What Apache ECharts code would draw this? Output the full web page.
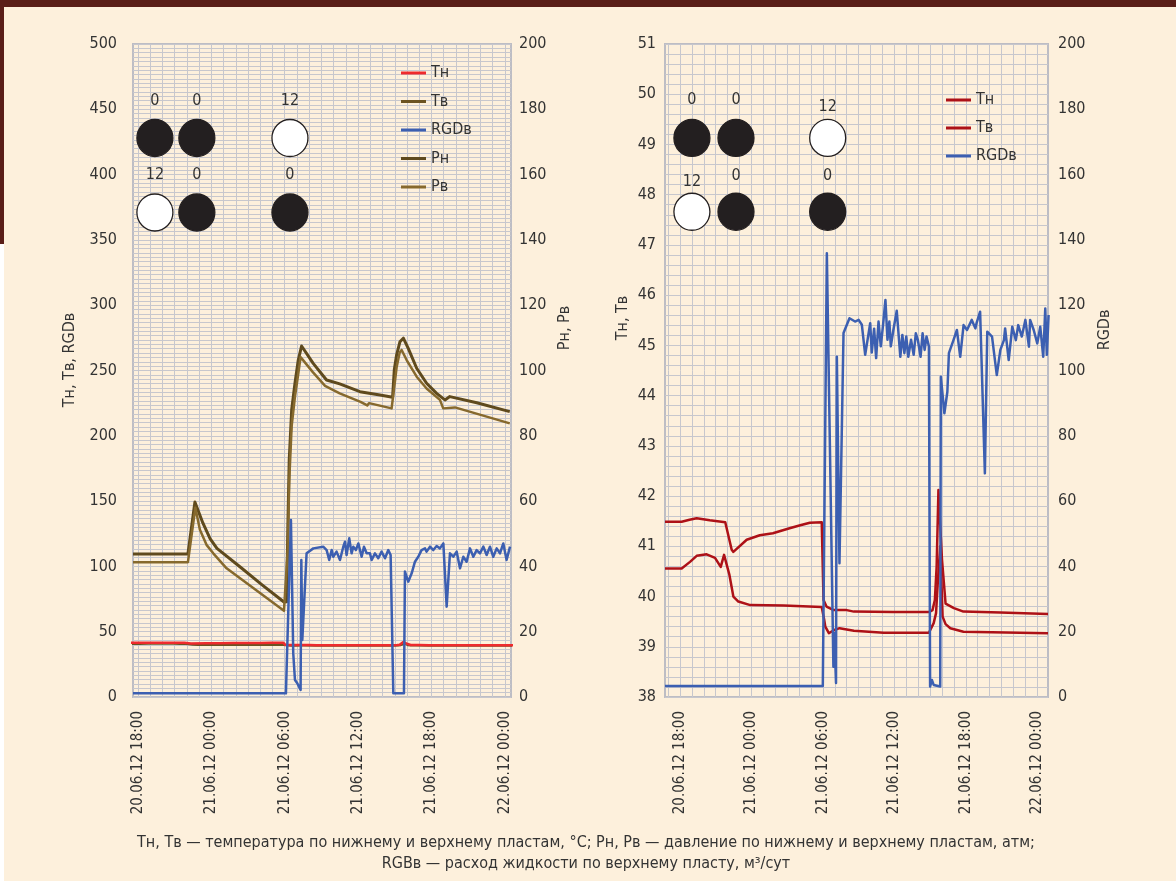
<!DOCTYPE html>
<html><head><meta charset="utf-8">
<script src="https://cdn.jsdelivr.net/npm/echarts@6/dist/echarts.min.js"></script>
<style>html,body{margin:0;padding:0;background:#fdf0dc;}#c{width:1176px;height:881px;}</style>
</head><body><div id="c"></div>
<script>
// ---------- DATA ----------
// x values: hours since 20.06.12 18:00
const timeLabels = ['20.06.12 18:00','21.06.12 00:00','21.06.12 06:00','21.06.12 12:00','21.06.12 18:00','22.06.12 00:00'];
const labelHours = [0, 6, 12, 18, 24, 30];

// Temperatures (°C)
const tempLower = [[-1.26,41.49],[0.14,41.49],[0.8,41.53],[1.4,41.56],[2.5,41.52],[3.8,41.48],[4.34,40.93],[4.48,40.89],[5.6,41.13],[6.7,41.22],[7.8,41.26],[9.2,41.36],[10.1,41.42],[10.9,41.47],[11.9,41.48],[12.05,39.93],[12.3,39.80],[12.9,39.73],[14.0,39.73],[14.6,39.70],[17.9,39.69],[20.9,39.69],[21.2,39.73],[21.4,39.93],[21.55,40.6],[21.7,42.12],[22.0,40.73],[22.3,39.86],[23.0,39.77],[23.8,39.70],[26.9,39.68],[30.9,39.65]];
const tempUpper = [[-1.26,40.56],[0.14,40.56],[0.84,40.69],[1.4,40.81],[2.24,40.84],[2.94,40.77],[3.42,40.59],[3.7,40.83],[4.15,40.43],[4.48,40.0],[4.9,39.9],[5.9,39.83],[8.7,39.82],[11.9,39.79],[12.1,39.55],[12.2,39.4],[12.5,39.27],[12.9,39.33],[13.4,39.37],[14.6,39.32],[17.1,39.28],[20.9,39.28],[21.3,39.47],[21.5,39.67],[21.65,40.3],[21.85,41.0],[22.05,39.6],[22.3,39.45],[22.7,39.37],[23.8,39.30],[30.9,39.27]];

// Pressures (atm), left chart right axis
const pressLower = [[-0.4,43.8],[4.09,43.8],[4.66,59.7],[5.31,53.3],[5.9,48.5],[6.46,45.5],[8.34,39.9],[10.1,34.5],[11.94,29.1],[12.16,29.2],[12.26,52.2],[12.37,72.6],[12.57,87.9],[12.84,96.1],[13.11,103.2],[13.38,107.5],[14.33,102.2],[15.42,97.1],[16.5,95.9],[18.15,93.5],[19.79,92.5],[20.82,91.8],[20.96,100.2],[21.15,104.8],[21.42,108.8],[21.7,109.9],[22.1,106.8],[22.79,100.7],[23.6,96.1],[24.42,93.0],[25.1,91.0],[25.5,92.0],[27.7,90.1],[30.4,87.4]];
const pressUpper = [[-0.4,41.3],[4.09,41.3],[4.7,58.0],[5.07,51.2],[5.61,46.6],[6.16,44.0],[7.25,39.4],[11.94,26.4],[12.1,26.3],[12.26,46],[12.37,66],[12.57,83],[12.84,92],[13.11,99],[13.3,104.1],[14.3,99.5],[15.3,95.3],[16.5,93.0],[18.2,90.4],[18.75,89.3],[18.9,90.0],[20.74,88.4],[20.85,88.3],[20.96,95],[21.15,101],[21.4,105.5],[21.56,106.3],[21.97,103.2],[22.79,98.1],[23.6,94.5],[24.69,91.0],[24.96,88.4],[25.92,88.7],[30.4,83.8]];

// Liquid flow of the upper layer (m3/day), left chart
const flowLeft = [[-0.4,2.8],[12.1,2.8],[12.51,135.5],[12.7,33.4],[12.84,13],[13.03,10.5],[13.3,5.4],[13.36,104.9],[13.44,43.6],[13.79,110],[14.34,113.8],[15.15,115.1],[15.43,112.5],[15.64,104.9],[15.84,112.5],[15.97,107.4],[16.24,111.3],[16.52,104.9],[16.79,115.1],[16.93,118.9],[17.06,108.7],[17.28,121.5],[17.47,110],[17.61,115.1],[17.82,112.5],[18.02,117.6],[18.15,118.9],[18.29,107.4],[18.48,115.1],[18.7,110],[18.97,110],[19.11,104.9],[19.38,110],[19.65,106.2],[19.92,111.3],[20.2,106.2],[20.47,112.5],[20.66,108.7],[20.82,107.4],[20.88,2.8],[21.75,2.8],[21.83,96],[22.1,88.3],[22.38,94.7],[22.65,103.6],[22.92,107.4],[23.19,112.5],[23.47,113.8],[23.6,111.3],[23.88,115.1],[24.15,112.5],[24.42,115.6],[24.69,113.8],[24.97,117.6],[25.24,69.2],[25.51,110],[25.78,107.4],[26.06,111.3],[26.33,98.5],[26.6,107.4],[26.87,103.6],[27.15,113.8],[27.42,107.4],[27.69,112.5],[27.96,110],[28.24,115.1],[28.51,108.7],[28.78,115.1],[29.05,107.4],[29.33,113.8],[29.6,110],[29.87,117.6],[30.14,104.9],[30.42,115.1]];

// Liquid flow of the upper layer (m3/day), right chart
const flowRight = [[-1.26,3.4],[11.99,3.4],[12.33,135.9],[12.88,9.3],[12.95,19.6],[13.1,4.3],[13.17,104.2],[13.39,41],[13.73,111.5],[14.23,116],[14.7,115],[15.0,115.5],[15.27,114],[15.55,104.8],[15.97,114.5],[16.1,105.5],[16.3,112.8],[16.47,103.8],[16.67,115],[16.86,107.4],[17.05,114],[17.25,121.6],[17.42,109.4],[17.58,115],[17.7,107.4],[17.92,112.5],[18.2,118.3],[18.5,104.2],[18.67,110.9],[18.84,105.3],[19.0,110.4],[19.17,104.2],[19.4,109.4],[19.62,104.8],[19.8,111.4],[19.97,109.4],[20.2,104.2],[20.37,111.4],[20.54,106.3],[20.7,110.4],[20.9,107.4],[21.0,3.2],[21.15,5.2],[21.3,3.7],[21.85,3.2],[21.9,98.1],[22.2,86.9],[22.45,93.5],[22.58,105.3],[22.97,109.4],[23.25,112.4],[23.53,104.2],[23.81,113.9],[24.1,112.4],[24.5,115.5],[24.8,112.9],[24.9,114.5],[25.2,118],[25.6,68.5],[25.8,111.9],[26.2,110.4],[26.6,98.6],[26.9,106.3],[27.2,109.3],[27.3,112.9],[27.6,103.2],[27.9,113.4],[28.2,109.3],[28.4,113.9],[28.7,110.4],[29.0,115.5],[29.3,107.3],[29.4,115.5],[29.7,112.4],[30.0,108.3],[30.25,113.4],[30.5,104.2],[30.67,119],[30.8,104.8],[30.95,117]];

// Valve states (shown as circles with the value above)
const valveStatesTop = [0, 0, 12];
const valveStatesBottom = [12, 0, 0];

// ---------- STYLE / LAYOUT ----------
const FONT = '"DejaVu Sans Condensed","Liberation Sans Narrow",sans-serif';
const TXT = '#333';
const GRIDC = '#c7c7cd';
const valveHoursL = [1.39, 4.82, 12.43], valveYL = [428, 371];
const valveHoursR = [1.0, 4.7, 12.4], valveYR = [49.13, 47.66];
const valveDistR = [[11,11,4],[3,9,9]];

function hourGrid(from, to){ const a=[]; for(let h=from; h<=to; h++) a.push(h); return a; }

function xAxisFor(gi, min, max){
  return {
    gridIndex: gi, type: 'value', min: min, max: max,
    axisLine: {show: false},
    axisTick: {show: false, customValues: hourGrid(Math.ceil(min), Math.floor(max))},
    axisLabel: {
      customValues: labelHours, rotate: 90, margin: 14,
      fontFamily: FONT, fontSize: 15, color: TXT,
      formatter: v => timeLabels[labelHours.indexOf(Math.round(v))] || ''
    },
    splitLine: {show: true, lineStyle: {color: GRIDC, width: 1}}
  };
}
function yLab(margin){ return {margin: margin, fontFamily: FONT, fontSize: 16, color: TXT}; }

function valveSeries(name, xi, yi, hours, ys, dists){
  const data = [];
  [valveStatesTop, valveStatesBottom].forEach((row, r) => {
    row.forEach((s, i) => {
      data.push({
        value: [hours[i], ys[r], s],
        itemStyle: {color: s === 0 ? '#231f20' : '#ffffff', borderColor: '#231f20', borderWidth: 1.3, opacity: 1},
        label: {distance: dists ? dists[r][i] : 10}
      });
    });
  });
  return {
    name: name, type: 'scatter', xAxisIndex: xi, yAxisIndex: yi, symbol: 'circle', symbolSize: [36, 37],
    data: data, z: 10, silent: true, itemStyle: {opacity: 1},
    label: {show: true, position: 'top', formatter: p => String(p.value[2]), fontFamily: FONT, fontSize: 16, color: TXT}
  };
}
function line(name, xi, yi, data, color, width, z){
  return {name: name, type: 'line', xAxisIndex: xi, yAxisIndex: yi, data: data, showSymbol: false, symbol: 'none',
    lineStyle: {color: color, width: width, join: 'round'}, itemStyle: {color: color}, z: z || 2, animation: false};
}

const chart = echarts.init(document.getElementById('c'), null, {renderer: 'canvas'});
const legendText = {fontFamily: FONT, fontSize: 16, color: TXT, lineHeight: 18};
const nameMap = {'Тн':'Тн','Тв':'Тв','RGDв':'RGDв','Рн':'Рн','Рв':'Рв','Тн ':'Тн','Тв ':'Тв','RGDв ':'RGDв'};

const option = {
  backgroundColor: '#fdf0dc',
  animation: false,
  textStyle: {fontFamily: FONT},
  grid: [
    {left: 133, top: 44, width: 378, height: 653, show: true, borderColor: '#bdbdc4', borderWidth: 2, backgroundColor: 'transparent'},
    {left: 665, top: 44, width: 383, height: 653, show: true, borderColor: '#bdbdc4', borderWidth: 2, backgroundColor: 'transparent'}
  ],
  xAxis: [xAxisFor(0, -0.4, 30.5), xAxisFor(1, -1.26, 30.9)],
  yAxis: [
    {gridIndex: 0, type: 'value', min: 0, max: 500, interval: 50, axisLine: {show: false}, axisTick: {show: false},
     axisLabel: yLab(16), splitLine: {show: true, lineStyle: {color: GRIDC}},
     minorTick: {show: false, splitNumber: 15}, minorSplitLine: {show: true, lineStyle: {color: GRIDC}}},
    {gridIndex: 0, type: 'value', position: 'right', min: 0, max: 200, interval: 20, axisLine: {show: false}, axisTick: {show: false},
     axisLabel: yLab(8), splitLine: {show: false}},
    {gridIndex: 1, type: 'value', min: 38, max: 51, interval: 1, axisLine: {show: false}, axisTick: {show: false},
     axisLabel: yLab(9), splitLine: {show: true, lineStyle: {color: GRIDC}},
     minorTick: {show: false, splitNumber: 5}, minorSplitLine: {show: true, lineStyle: {color: GRIDC}}},
    {gridIndex: 1, type: 'value', position: 'right', min: 0, max: 200, interval: 20, axisLine: {show: false}, axisTick: {show: false},
     axisLabel: yLab(10), splitLine: {show: false}}
  ],
  legend: [
    {data: ['Тн','Тв','RGDв','Рн','Рв'], orient: 'vertical', left: 396, top: 59, itemWidth: 25, itemHeight: 3, itemGap: 10.5,
     icon: 'rect', textStyle: legendText, formatter: n => nameMap[n], selectedMode: false},
    {data: ['Тн ','Тв ','RGDв '], orient: 'vertical', left: 941, top: 86, itemWidth: 25, itemHeight: 3, itemGap: 10,
     icon: 'rect', textStyle: legendText, formatter: n => nameMap[n], selectedMode: false}
  ],
  series: [
    line('Тв', 0, 0, tempUpper, '#6b5322', 2, 2),
    line('Тн', 0, 0, tempLower, '#ee2a2e', 2.5, 3),
    line('RGDв', 0, 0, flowLeft, '#3c5fb1', 2.5, 4),
    line('Рн', 0, 1, pressLower, '#5f4a1d', 3, 3),
    line('Рв', 0, 1, pressUpper, '#86692d', 2.5, 3),
    valveSeries('valvesL', 0, 0, valveHoursL, valveYL, null),
    line('Тн ', 1, 2, tempLower, '#ad1117', 2.5, 3),
    line('Тв ', 1, 2, tempUpper, '#ad1117', 2.5, 3),
    line('RGDв ', 1, 3, flowRight, '#3c5fb1', 2.5, 4),
    valveSeries('valvesR', 1, 2, valveHoursR, valveYR, valveDistR)
  ],
  graphic: [
    {type: 'rect', left: 0, top: 0, shape: {width: 1176, height: 7}, style: {fill: '#5a1e18'}, z: 100},
    {type: 'rect', left: 0, top: 0, shape: {width: 4, height: 244}, style: {fill: '#5a1e18'}, z: 100},
    {type: 'rect', left: 0, top: 244, shape: {width: 4, height: 637}, style: {fill: '#ffffff'}, z: 100},
    {type: 'text', x: 70, y: 360, rotation: Math.PI/2, style: {text: 'Тн, Тв, RGDв', font: '16px ' + FONT, fill: TXT, align: 'center', verticalAlign: 'middle'}},
    {type: 'text', x: 565, y: 328, rotation: Math.PI/2, style: {text: 'Рн, Рв', font: '16px ' + FONT, fill: TXT, align: 'center', verticalAlign: 'middle'}},
    {type: 'text', x: 623, y: 318, rotation: Math.PI/2, style: {text: 'Тн, Тв', font: '16px ' + FONT, fill: TXT, align: 'center', verticalAlign: 'middle'}},
    {type: 'text', x: 1105, y: 330, rotation: Math.PI/2, style: {text: 'RGDв', font: '16px ' + FONT, fill: TXT, align: 'center', verticalAlign: 'middle'}},
    {type: 'text', x: 586, y: 843, style: {text: 'Тн, Тв — температура по нижнему и верхнему пластам, °С; Рн, Рв — давление по нижнему и верхнему пластам, атм;', font: '16px ' + FONT, fill: TXT, align: 'center', verticalAlign: 'middle'}},
    {type: 'text', x: 586, y: 864, style: {text: 'RGBв — расход жидкости по верхнему пласту, м³/сут', font: '16px ' + FONT, fill: TXT, align: 'center', verticalAlign: 'middle'}}
  ]
};
chart.setOption(option);
</script>
</body></html>
